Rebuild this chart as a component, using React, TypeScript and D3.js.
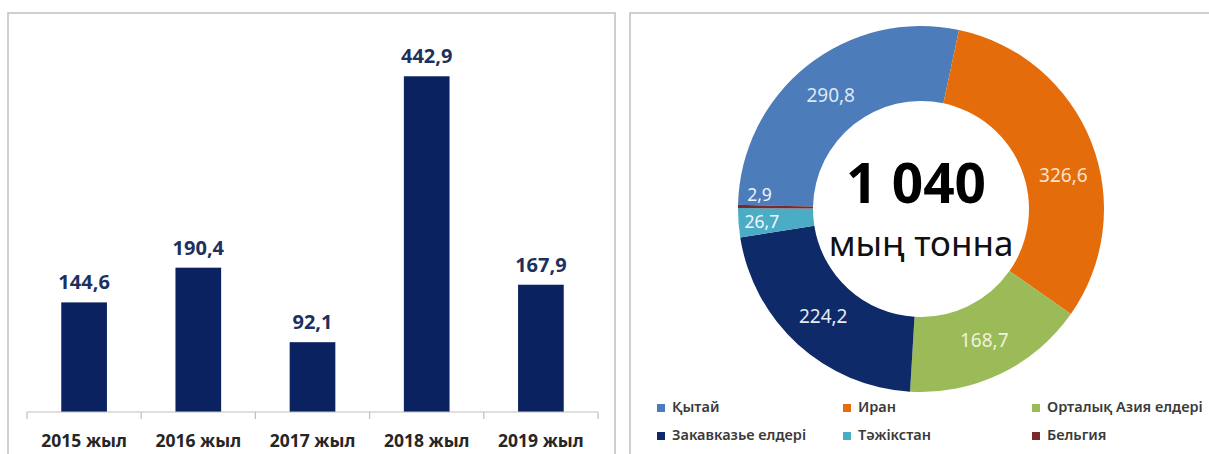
import React from 'react';
import * as d3 from 'd3';

// Bar chart data
const years = ['2015 жыл', '2016 жыл', '2017 жыл', '2018 жыл', '2019 жыл'];
const yearValues = [144.6, 190.4, 92.1, 442.9, 167.9];

// Doughnut data
const regions = ['Қытай', 'Иран', 'Орталық Азия елдері', 'Закавказье елдері', 'Тәжікстан', 'Бельгия'];
const regionValues = [290.8, 326.6, 168.7, 224.2, 26.7, 2.9];
const regionColors = ['#4c7cba', '#e46c0a', '#9bbb59', '#0f2a68', '#4bacc6', '#7a2a2a'];
const regionLabelColors = ['#dde8f5', '#fde4cc', '#eef3dc', '#e6eaf2', '#f0f8fb', '#eef3fa'];
const totalLabel = '1 040';
const unitLabel = 'мың тонна';

const FONT = '"Noto Sans", "DejaVu Sans", sans-serif';
const fmt = (v: number) => v.toFixed(1).replace('.', ',');

// nudges for labels Excel moved off the centroid
const labelNudge: Record<string, [number, number]> = {
  'Иран': [7, 20],
  'Тәжікстан': [-14, 2],
  'Бельгия': [-16, -12],
};

const BarPanel: React.FC = () => {
  const baseY = 412;
  const x = d3.scaleBand<string>()
    .domain(years)
    .range([27, 598])
    .paddingInner(0.6)
    .paddingOuter(0.3);
  const y = d3.scaleLinear().domain([0, 500]).range([baseY, 33]);
  const step = x.step();
  const tickXs = d3.range(years.length + 1).map(i => 27 + i * step);

  return (
    <g>
      <rect x={8} y={13} width={607} height={470} fill="none" stroke="#c4c4c4" strokeWidth={1.6} />
      {years.map((yr, i) => (
        <g key={yr}>
          <rect
            x={x(yr)!}
            y={y(yearValues[i])}
            width={x.bandwidth()}
            height={baseY - y(yearValues[i])}
            fill="#0b2261"
          />
          <text
            x={x(yr)! + x.bandwidth() / 2}
            y={y(yearValues[i]) - 13}
            textAnchor="middle"
            fontFamily={FONT}
            fontWeight={700}
            fontSize={20}
            fill="#1d3060"
          >
            {fmt(yearValues[i])}
          </text>
          <text
            x={x(yr)! + x.bandwidth() / 2}
            y={447}
            textAnchor="middle"
            fontFamily={FONT}
            fontWeight={700}
            fontSize={17.5}
            fill="#262626"
          >
            {yr}
          </text>
        </g>
      ))}
      <line x1={27} x2={598} y1={baseY} y2={baseY} stroke="#bfbfbf" strokeWidth={1.2} />
      {tickXs.map((tx, i) => (
        <line key={i} x1={tx} x2={tx} y1={baseY} y2={baseY + 7} stroke="#bfbfbf" strokeWidth={1.2} />
      ))}
    </g>
  );
};

const DonutPanel: React.FC = () => {
  const cx = 921;
  const cy = 209;
  const outer = 183;
  const inner = 108;
  const start = (-88.7 * Math.PI) / 180;
  const pie = d3.pie<number>().sort(null).value(d => d).startAngle(start).endAngle(start + 2 * Math.PI);
  const arcs = pie(regionValues);
  const arc = d3.arc<d3.PieArcDatum<number>>().innerRadius(inner).outerRadius(outer);
  const legendCols = [657, 843, 1032];
  const legendRows = [412, 440];

  return (
    <g>
      <rect x={630} y={13} width={600} height={470} fill="none" stroke="#c4c4c4" strokeWidth={1.6} />
      <g transform={`translate(${cx},${cy})`}>
        {arcs.map((a, i) => (
          <path key={regions[i]} d={arc(a) || ''} fill={regionColors[i]} />
        ))}
        {arcs.map((a, i) => {
          const [lx, ly] = arc.centroid(a);
          const n = labelNudge[regions[i]] || [0, 0];
          const small = regionValues[i] < 30;
          return (
            <text
              key={'l' + i}
              x={lx + n[0]}
              y={ly + n[1]}
              dy="0.35em"
              textAnchor="middle"
              fontFamily={FONT}
              fontSize={small ? 17.5 : 19}
              fill={regionLabelColors[i]}
            >
              {fmt(regionValues[i])}
            </text>
          );
        })}
        <text x={-5} y={-6} textAnchor="middle" fontFamily={FONT} fontWeight={700} fontSize={55} fill="#000">
          {totalLabel}
        </text>
        <text x={0} y={47} textAnchor="middle" fontFamily={FONT} fontSize={35} fill="#111">
          {unitLabel}
        </text>
      </g>
      {regions.map((r, i) => {
        const lx = legendCols[i % 3];
        const ly = legendRows[Math.floor(i / 3)];
        return (
          <g key={'lg' + r}>
            <rect x={lx} y={ly - 8} width={8} height={8} fill={regionColors[i]} />
            <text x={lx + 15} y={ly} fontFamily={FONT} fontWeight={600} fontSize={14.5} fill="#3a3a3a">
              {r}
            </text>
          </g>
        );
      })}
    </g>
  );
};

export default function App() {
  return (
    <div style={{ position: 'absolute', left: 0, top: 0 }}>
      <svg width={1209} height={454} style={{ display: 'block', background: '#fff' }}>
        <BarPanel />
        <DonutPanel />
      </svg>
    </div>
  );
}
